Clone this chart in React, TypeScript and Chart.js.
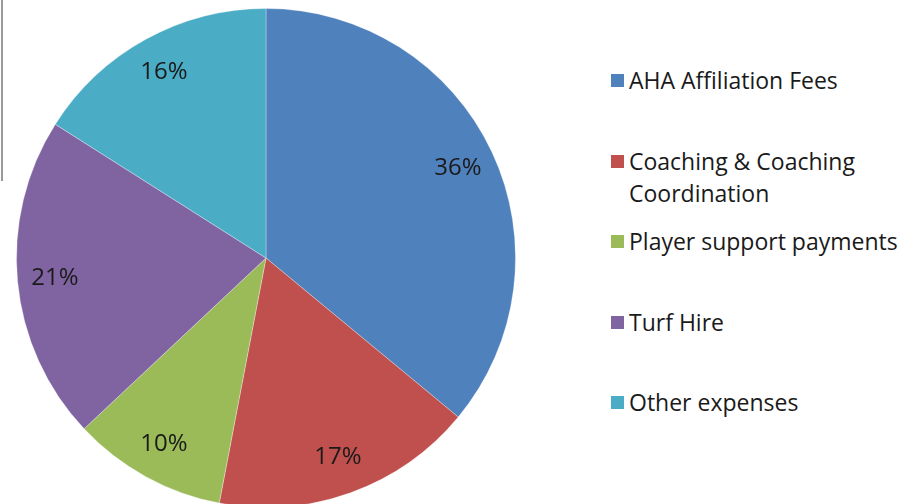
import React, { useEffect, useRef } from "react";
import { Chart, registerables } from "chart.js";

Chart.register(...registerables);

const categories = [
  "AHA Affiliation Fees",
  "Coaching & Coaching Coordination",
  "Player support payments",
  "Turf Hire",
  "Other expenses",
];
const values = [36, 17, 10, 21, 16];
const colors = ["#4F81BD", "#C0504D", "#9BBB59", "#8064A2", "#4BACC6"];

const FONT = "'Open Sans', 'Noto Sans', sans-serif";

const labelPlugin = {
  id: "sliceLabels",
  afterDatasetsDraw(chart: any) {
    const meta = chart.getDatasetMeta(0);
    const ctx = chart.ctx;
    const total = values.reduce((a, b) => a + b, 0);
    ctx.save();
    ctx.font = `24px ${FONT}`;
    ctx.fillStyle = "#1a1a1a";
    ctx.textAlign = "center";
    ctx.textBaseline = "middle";
    meta.data.forEach((arc: any, i: number) => {
      const p = arc.getProps(["x", "y", "startAngle", "endAngle", "outerRadius"], true);
      const mid = (p.startAngle + p.endAngle) / 2;
      const r = p.outerRadius * 0.85;
      const x = p.x + Math.cos(mid) * r;
      const y = p.y + Math.sin(mid) * r;
      const pct = Math.round((values[i] / total) * 100) + "%";
      ctx.fillText(pct, x, y);
    });
    ctx.restore();
  },
};

export default function App() {
  const ref = useRef<HTMLCanvasElement | null>(null);

  useEffect(() => {
    if (!ref.current) return;
    const chart = new Chart(ref.current, {
      type: "pie",
      data: {
        labels: categories,
        datasets: [
          {
            data: values,
            backgroundColor: colors,
            borderColor: "rgba(255,255,255,0.3)",
            borderWidth: 1,
          },
        ],
      },
      options: {
        animation: false,
        responsive: false,
        maintainAspectRatio: false,
        layout: { padding: { top: 8, left: 16, right: 16, bottom: 8 } },
        plugins: {
          legend: { display: false },
          tooltip: { enabled: false },
        },
      },
      plugins: [labelPlugin],
    });
    return () => chart.destroy();
  }, []);

  return (
    <div
      style={{
        position: "fixed",
        left: 0,
        top: 0,
        width: 910,
        height: 504,
        overflow: "hidden",
        background: "#fff",
      }}
    >
      <div
        style={{
          position: "absolute",
          left: 1,
          top: 0,
          width: 2,
          height: 181,
          background: "#9a9a9a",
        }}
      />
      <canvas
        ref={ref}
        width={532}
        height={516}
        style={{ position: "absolute", left: 0, top: 0, width: 532, height: 516 }}
      />
      <div
        style={{
          position: "absolute",
          left: 611,
          top: 64,
          fontFamily: FONT,
          fontSize: 23,
          lineHeight: "32px",
          color: "#1a1a1a",
        }}
      >
        {categories.map((c, i) => (
          <div
            key={c}
            style={{ display: "flex", alignItems: "flex-start", height: 80.5 }}
          >
            <div
              style={{
                width: 13,
                height: 13,
                marginTop: 10,
                marginRight: 5,
                background: colors[i],
                flex: "none",
              }}
            />
            <div style={{ width: 290 }}>{c}</div>
          </div>
        ))}
      </div>
    </div>
  );
}
